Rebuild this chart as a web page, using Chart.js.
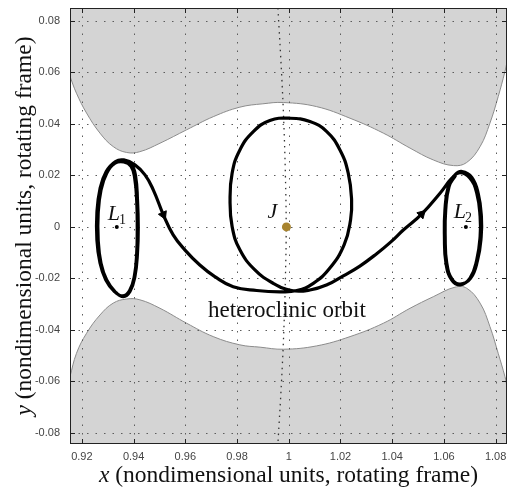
<!DOCTYPE html>
<html>
<head>
<meta charset="utf-8">
<script src="https://cdn.jsdelivr.net/npm/chart.js@4.4.1/dist/chart.umd.min.js"></script>
<style>
  html, body { margin: 0; padding: 0; background: #fff; }
</style>
</head>
<body>
<canvas id="orbitChart" width="508" height="491"></canvas>
<script>
// axis ranges and ticks
const xRange = [0.9154, 1.0844];
const yRange = [-0.0843, 0.0850];
const xTicks = [0.92, 0.94, 0.96, 0.98, 1, 1.02, 1.04, 1.06, 1.08];
const xTickLabels = ['0.92', '0.94', '0.96', '0.98', '1', '1.02', '1.04', '1.06', '1.08'];
const yTicks = [-0.08, -0.06, -0.04, -0.02, 0, 0.02, 0.04, 0.06, 0.08];
const yTickLabels = ['-0.08', '-0.06', '-0.04', '-0.02', '0', '0.02', '0.04', '0.06', '0.08'];

// zero velocity curve, upper forbidden region
const upperX = [0.9154, 0.9179, 0.9218, 0.9270, 0.9321, 0.9373, 0.9424, 0.9502, 0.9605, 0.9708, 0.9811, 0.9900,
                0.9979, 1.0108, 1.0237, 1.0366, 1.0469, 1.0559, 1.0637, 1.0688, 1.0740, 1.0778, 1.0810, 1.0836, 1.0844];
const upperY = [0.0584, 0.0519, 0.0442, 0.0364, 0.0312, 0.0289, 0.0292, 0.0325, 0.0377, 0.0428, 0.0465, 0.0478,
                0.0483, 0.0467, 0.0422, 0.0364, 0.0306, 0.0260, 0.0238, 0.0250, 0.0312, 0.0403, 0.0506, 0.0603, 0.0640];
// lower forbidden region
const lowerX = [0.9154, 0.9179, 0.9218, 0.9270, 0.9321, 0.9373, 0.9424, 0.9502, 0.9605, 0.9708, 0.9811, 0.9889,
                0.9979, 1.0108, 1.0237, 1.0366, 1.0469, 1.0559, 1.0643, 1.0688, 1.0740, 1.0778, 1.0810, 1.0836, 1.0844];
const lowerY = [-0.0581, -0.0491, -0.0413, -0.0342, -0.0296, -0.0280, -0.0283, -0.0316, -0.0374, -0.0426, -0.0458, -0.0467,
                -0.0475, -0.0462, -0.0426, -0.0374, -0.0316, -0.0271, -0.0234, -0.0238, -0.0296, -0.0387, -0.0491, -0.0581, -0.0620];

// Jupiter's orbit (dotted arc through J)
const jupX = [0.9958, 0.9972, 0.9981, 0.9987, 0.9990, 0.9987, 0.9981, 0.9972, 0.9958];
const jupY = [0.0850, 0.0600, 0.0400, 0.0200, 0, -0.0200, -0.0400, -0.0600, -0.0843];

// heteroclinic orbit: L1 lyapunov orbit (twice), transit past J, L2 lyapunov orbit (twice)
const orbitX = [
  0.9360, 0.9392, 0.9408, 0.9415, 0.9418, 0.9415, 0.9405, 0.9386, 0.9360, 0.9328, 0.9296, 0.9274, 0.9263, 0.9263, 0.9274, 0.9296, 0.9328,
  0.9362, 0.9390, 0.9404, 0.9412, 0.9414, 0.9412, 0.9403, 0.9384, 0.9358, 0.9325, 0.9292, 0.9270, 0.9258, 0.9258, 0.9270, 0.9294, 0.9330, 0.9362,
  0.9405, 0.9444, 0.9476, 0.9515, 0.9553, 0.9598, 0.9656, 0.9714, 0.9785, 0.9876, 0.9966, 1.0031, 1.0095, 1.0159, 1.0214, 1.0239,
  1.0243, 1.0230, 1.0198, 1.0147, 1.0082, 1.0005, 0.9927, 0.9863, 0.9811, 0.9781, 0.9773, 0.9781, 0.9811, 0.9869, 0.9940, 1.0011,
  1.0082, 1.0150, 1.0211, 1.0275, 1.0340, 1.0395, 1.0443, 1.0514, 1.0585, 1.0630, 1.0662,
  1.0701, 1.0727, 1.0740, 1.0740, 1.0727, 1.0701, 1.0662, 1.0630, 1.0608, 1.0602, 1.0604, 1.0617, 1.0643, 1.0670,
  1.0708, 1.0733, 1.0745, 1.0744, 1.0730, 1.0703, 1.0663, 1.0632, 1.0611, 1.0605, 1.0607, 1.0620, 1.0645
];
const orbitY = [
  0.0257, 0.0241, 0.0195, 0.0105, 0.0001, -0.0102, -0.0193, -0.0251, -0.0271, -0.0251, -0.0206, -0.0141, -0.0050, 0.0053, 0.0144, 0.0208, 0.0247,
  0.0252, 0.0235, 0.0190, 0.0100, 0.0000, -0.0100, -0.0190, -0.0248, -0.0268, -0.0250, -0.0205, -0.0140, -0.0050, 0.0055, 0.0148, 0.0215, 0.0254, 0.0260,
  0.0241, 0.0202, 0.0144, 0.0047, -0.0031, -0.0089, -0.0148, -0.0193, -0.0232, -0.0247, -0.0252, -0.0247, -0.0219, -0.0160, -0.0070, 0.0027,
  0.0105, 0.0209, 0.0299, 0.0370, 0.0409, 0.0422, 0.0413, 0.0370, 0.0299, 0.0209, 0.0105, 0.0001, -0.0089, -0.0167, -0.0219, -0.0247,
  -0.0245, -0.0224, -0.0190, -0.0152, -0.0104, -0.0058, -0.0012, 0.0050, 0.0131, 0.0188, 0.0211,
  0.0189, 0.0131, 0.0040, -0.0038, -0.0128, -0.0199, -0.0225, -0.0206, -0.0141, -0.0038, 0.0066, 0.0157, 0.0202, 0.0215,
  0.0192, 0.0128, 0.0040, -0.0040, -0.0130, -0.0200, -0.0222, -0.0204, -0.0140, -0.0038, 0.0066, 0.0157, 0.0200
];
// arrowheads sit on these orbit x values
const arrowX = [0.9515, 1.0514];

// libration points and Jupiter
const lagrangeX = [0.9335, 1.0685];
const lagrangeY = [0, 0];
const jupiterX = [0.9991];
const jupiterY = [0];

const toPts = (xs, ys) => xs.map((v, i) => ({ x: v, y: ys[i] }));

const orbitPts = toPts(orbitX, orbitY);
const arrowIdx = arrowX.map(v => orbitX.indexOf(v));
const arrowPts = arrowIdx.map(i => orbitPts[i]);

const serif = '"Liberation Serif", "Times New Roman", serif';
const sans = '"Liberation Sans", Arial, sans-serif';

function drawGrid(chart) {
  const { ctx, chartArea: a, scales: { x, y } } = chart;
  ctx.save();
  ctx.strokeStyle = '#5c5c5c';
  ctx.lineWidth = 1;
  ctx.setLineDash([1.5, 7]);
  xTicks.forEach(v => {
    const px = Math.round(x.getPixelForValue(v)) + 0.5;
    ctx.beginPath(); ctx.moveTo(px, a.top); ctx.lineTo(px, a.bottom); ctx.stroke();
  });
  yTicks.forEach(v => {
    const py = Math.round(y.getPixelForValue(v)) + 0.5;
    ctx.beginPath(); ctx.moveTo(a.left, py); ctx.lineTo(a.right, py); ctx.stroke();
  });
  ctx.restore();
}

// grid lines go on top of the gray regions, under the orbit
const gridPlugin = {
  id: 'gridPlugin',
  beforeDatasetDraw(chart, args) {
    if (chart.data.datasets[args.index].label === 'jupiter orbit') drawGrid(chart);
  }
};

// box, inward ticks, tick labels, text labels, axis titles
const labelPlugin = {
  id: 'labelPlugin',
  afterDraw(chart) {
    const { ctx, chartArea: a, scales: { x, y } } = chart;
    ctx.save();

    ctx.strokeStyle = '#222';
    ctx.lineWidth = 1;
    ctx.setLineDash([]);
    ctx.strokeRect(a.left + 0.5, a.top + 0.5, a.right - a.left - 1, a.bottom - a.top - 1);
    ctx.beginPath();
    xTicks.forEach(v => {
      const px = Math.round(x.getPixelForValue(v)) + 0.5;
      ctx.moveTo(px, a.bottom); ctx.lineTo(px, a.bottom - 5);
      ctx.moveTo(px, a.top); ctx.lineTo(px, a.top + 5);
    });
    yTicks.forEach(v => {
      const py = Math.round(y.getPixelForValue(v)) + 0.5;
      ctx.moveTo(a.left, py); ctx.lineTo(a.left + 5, py);
      ctx.moveTo(a.right, py); ctx.lineTo(a.right - 5, py);
    });
    ctx.stroke();

    // tick labels
    ctx.fillStyle = '#444';
    ctx.font = '11px ' + sans;
    ctx.textBaseline = 'middle';
    ctx.textAlign = 'center';
    xTicks.forEach((v, i) => ctx.fillText(xTickLabels[i], x.getPixelForValue(v), a.bottom + 13));
    ctx.textAlign = 'right';
    yTicks.forEach((v, i) => ctx.fillText(yTickLabels[i], a.left - 10, y.getPixelForValue(v)));

    ctx.fillStyle = '#111';
    ctx.textBaseline = 'alphabetic';
    ctx.textAlign = 'left';

    // L1, L2 with subscripts
    const sub = (main, s, vx, vy) => {
      const px = x.getPixelForValue(vx), py = y.getPixelForValue(vy);
      ctx.font = 'italic 22px ' + serif;
      ctx.fillText(main, px, py);
      const w = ctx.measureText(main).width;
      ctx.font = '14px ' + serif;
      ctx.fillText(s, px + w - 1, py + 4);
    };
    sub('L', '1', 0.9300, 0.0027);
    sub('L', '2', 1.0638, 0.0035);
    ctx.font = 'italic 22px ' + serif;
    ctx.fillText('J', x.getPixelForValue(0.9918), y.getPixelForValue(0.0035));

    ctx.font = '23px ' + serif;
    ctx.textAlign = 'center';
    ctx.fillText('heteroclinic orbit', x.getPixelForValue(0.9993), y.getPixelForValue(-0.0350));

    // axis titles: italic variable + plain text
    const title = (v, rest, cx, cy, rot) => {
      ctx.save();
      ctx.translate(cx, cy);
      ctx.rotate(rot);
      ctx.textAlign = 'left';
      ctx.font = 'italic 23.5px ' + serif;
      const w1 = ctx.measureText(v).width;
      ctx.font = '23.5px ' + serif;
      const w2 = ctx.measureText(rest).width;
      const start = -(w1 + w2) / 2;
      ctx.font = 'italic 23.5px ' + serif;
      ctx.fillText(v, start, 0);
      ctx.font = '23.5px ' + serif;
      ctx.fillText(rest, start + w1, 0);
      ctx.restore();
    };
    title('x', ' (nondimensional units, rotating frame)', (a.left + a.right) / 2, 482, 0);
    title('y', ' (nondimensional units, rotating frame)', 31, (a.top + a.bottom) / 2, -Math.PI / 2);

    ctx.restore();
  }
};

const ctx = document.getElementById('orbitChart').getContext('2d');
new Chart(ctx, {
  type: 'scatter',
  data: {
    datasets: [
      {
        label: 'upper',
        data: toPts(upperX, upperY),
        showLine: true,
        fill: 'end',
        backgroundColor: '#d4d4d4',
        borderColor: '#8c8c8c',
        borderWidth: 1,
        tension: 0.4,
        pointRadius: 0,
        order: 6
      },
      {
        label: 'lower',
        data: toPts(lowerX, lowerY),
        showLine: true,
        fill: 'start',
        backgroundColor: '#d4d4d4',
        borderColor: '#8c8c8c',
        borderWidth: 1,
        tension: 0.4,
        pointRadius: 0,
        order: 5
      },
      {
        label: 'jupiter orbit',
        data: toPts(jupX, jupY),
        showLine: true,
        borderColor: '#333',
        borderWidth: 1.3,
        borderDash: [1.5, 4.5],
        tension: 0.4,
        pointRadius: 0,
        order: 4
      },
      {
        label: 'heteroclinic orbit',
        data: orbitPts,
        showLine: true,
        borderColor: '#000',
        borderWidth: 3.2,
        tension: 0.45,
        pointRadius: 0,
        order: 3
      },
      {
        label: 'J',
        data: toPts(jupiterX, jupiterY),
        pointRadius: 4.5,
        pointBackgroundColor: '#a8842f',
        pointBorderWidth: 0,
        order: 2
      },
      {
        label: 'L points',
        data: toPts(lagrangeX, lagrangeY),
        pointRadius: 2,
        pointBackgroundColor: '#000',
        pointBorderWidth: 0,
        order: 1
      },
      {
        label: 'arrows',
        data: arrowPts,
        pointStyle: 'triangle',
        pointRadius: 5,
        pointBackgroundColor: '#000',
        pointBorderColor: '#000',
        pointBorderWidth: 1,
        pointRotation: c => {
          const i = arrowIdx[c.dataIndex];
          const sx = c.chart.scales.x, sy = c.chart.scales.y;
          const dx = sx.getPixelForValue(orbitX[i + 1]) - sx.getPixelForValue(orbitX[i - 1]);
          const dy = sy.getPixelForValue(orbitY[i + 1]) - sy.getPixelForValue(orbitY[i - 1]);
          return Math.atan2(dx, -dy) * 180 / Math.PI;
        },
        order: 0
      }
    ]
  },
  options: {
    responsive: false,
    animation: false,
    events: [],
    devicePixelRatio: 1,
    layout: { autoPadding: false, padding: { top: 8, right: 1, left: 0, bottom: 0 } },
    plugins: { legend: { display: false }, tooltip: { enabled: false } },
    scales: {
      x: {
        type: 'linear',
        min: xRange[0],
        max: xRange[1],
        afterBuildTicks: s => { s.ticks = xTicks.map(v => ({ value: v })); },
        afterFit: s => { s.height = 47; },
        ticks: { display: false },
        grid: { display: false, drawTicks: false },
        border: { display: false }
      },
      y: {
        type: 'linear',
        min: yRange[0],
        max: yRange[1],
        afterBuildTicks: s => { s.ticks = yTicks.map(v => ({ value: v })); },
        afterFit: s => { s.width = 70; },
        ticks: { display: false },
        grid: { display: false, drawTicks: false },
        border: { display: false }
      }
    }
  },
  plugins: [gridPlugin, labelPlugin]
});
</script>
</body>
</html>
